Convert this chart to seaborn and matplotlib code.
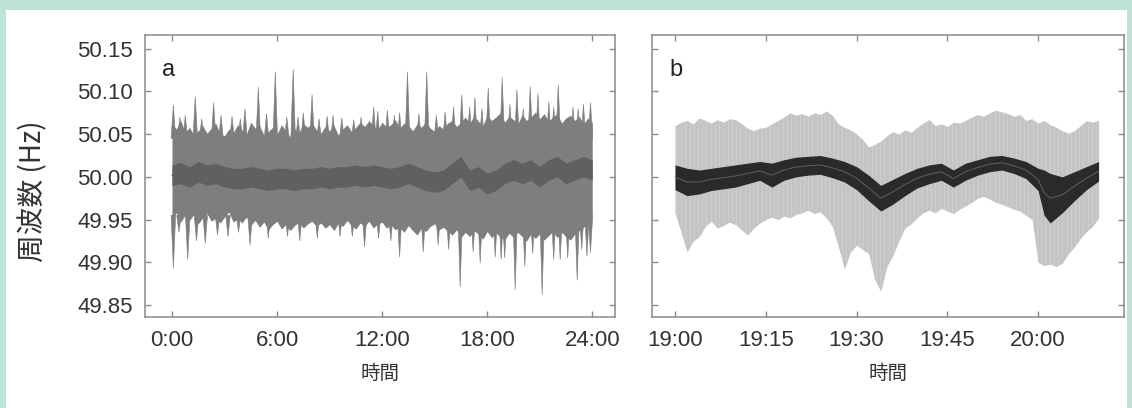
import numpy as np
import matplotlib
matplotlib.use("Agg")
import matplotlib.pyplot as plt
from matplotlib.patches import Rectangle
import seaborn as sns

# ---------------- data ----------------
# Panel a: 24 h, 15-min envelope of frequency (Hz)
hours_a = np.arange(0, 24.01, 0.25)
upper_a = [50.062, 50.056, 50.066, 50.052, 50.058, 50.049, 50.054, 50.060,
           50.051, 50.057, 50.063, 50.050, 50.048, 50.056, 50.052, 50.061,
           50.055, 50.050, 50.064, 50.057, 50.060, 50.049, 50.053, 50.058,
           50.050, 50.061, 50.054, 50.047, 50.056, 50.052, 50.062, 50.058,
           50.063, 50.055, 50.051, 50.059, 50.054, 50.060, 50.049, 50.056,
           50.061, 50.053, 50.058, 50.064, 50.059, 50.066, 50.060, 50.055,
           50.064, 50.058, 50.061, 50.067, 50.057, 50.063, 50.060, 50.054,
           50.062, 50.058, 50.065, 50.057, 50.053, 50.060, 50.056, 50.063,
           50.066, 50.059, 50.064, 50.070, 50.063, 50.071, 50.065, 50.060,
           50.072, 50.066, 50.070, 50.075, 50.064, 50.071, 50.067, 50.062,
           50.073, 50.066, 50.070, 50.076, 50.068, 50.074, 50.065, 50.070,
           50.074, 50.063, 50.069, 50.072, 50.066, 50.071, 50.062, 50.069,
           50.064]
lower_a = [49.950, 49.958, 49.947, 49.955, 49.949, 49.956, 49.945, 49.952,
           49.957, 49.948, 49.952, 49.946, 49.953, 49.959, 49.947, 49.951,
           49.946, 49.953, 49.943, 49.949, 49.941, 49.947, 49.938, 49.944,
           49.948, 49.939, 49.944, 49.937, 49.943, 49.947, 49.940, 49.945,
           49.948, 49.942, 49.946, 49.940, 49.944, 49.937, 49.946, 49.942,
           49.949, 49.943, 49.939, 49.946, 49.942, 49.948, 49.940, 49.945,
           49.947, 49.940, 49.944, 49.938, 49.941, 49.935, 49.943, 49.937,
           49.932, 49.940, 49.936, 49.942, 49.945, 49.938, 49.941, 49.936,
           49.932, 49.938, 49.929, 49.935, 49.930, 49.937, 49.933, 49.927,
           49.936, 49.929, 49.934, 49.930, 49.926, 49.934, 49.929, 49.935,
           49.930, 49.925, 49.933, 49.928, 49.933, 49.926, 49.931, 49.936,
           49.929, 49.935, 49.930, 49.926, 49.933, 49.937, 49.941, 49.945,
           49.955]
# 30-min central (darker) band
hours_a_mid = np.arange(0, 24.01, 0.5)
mid_hi_a = [50.014, 50.017, 50.012, 50.018, 50.014, 50.016, 50.012, 50.010,
            50.010, 50.012, 50.010, 50.008, 50.010, 50.010, 50.008, 50.010,
            50.010, 50.012, 50.010, 50.012, 50.012, 50.014, 50.012, 50.014,
            50.012, 50.010, 50.012, 50.016, 50.012, 50.008, 50.006, 50.008,
            50.016, 50.024, 50.008, 50.012, 50.004, 50.008, 50.016, 50.020,
            50.016, 50.020, 50.012, 50.020, 50.024, 50.016, 50.020, 50.024,
            50.020]
mid_lo_a = [49.990, 49.992, 49.988, 49.994, 49.990, 49.992, 49.988, 49.986,
            49.986, 49.988, 49.986, 49.984, 49.986, 49.986, 49.984, 49.986,
            49.986, 49.988, 49.986, 49.988, 49.988, 49.990, 49.988, 49.990,
            49.988, 49.986, 49.988, 49.992, 49.988, 49.984, 49.982, 49.984,
            49.992, 50.000, 49.984, 49.988, 49.980, 49.984, 49.992, 49.996,
            49.992, 49.996, 49.988, 49.996, 50.000, 49.992, 49.996, 50.000,
            49.996]
# spikes (time in h, extreme value in Hz)
spike_up_t = [0.08, 0.45, 0.76, 1.33, 1.7, 2.38, 2.8, 3.43, 3.9, 4.17, 4.93,
              5.4, 5.9, 6.56, 6.92, 7.2, 7.5, 8.0, 8.4, 8.86, 9.2, 9.7, 10.38,
              10.8, 11.52, 11.75, 12.3, 12.7, 13.0, 13.45, 14.1, 14.55, 15.1,
              15.6, 16.08, 16.55, 17.0, 17.3, 17.7, 18.06, 18.86, 19.3, 19.7,
              20.06, 20.46, 20.9, 21.52, 21.8, 22.06, 22.9, 23.2, 23.5, 23.9]
spike_up_v = [50.084, 50.070, 50.072, 50.094, 50.068, 50.087, 50.072, 50.071,
              50.068, 50.080, 50.105, 50.074, 50.123, 50.070, 50.126, 50.070,
              50.075, 50.096, 50.068, 50.071, 50.072, 50.069, 50.067, 50.070,
              50.082, 50.077, 50.078, 50.072, 50.075, 50.123, 50.074, 50.123,
              50.072, 50.076, 50.082, 50.096, 50.082, 50.093, 50.080, 50.104,
              50.116, 50.085, 50.102, 50.080, 50.106, 50.098, 50.088, 50.082,
              50.108, 50.082, 50.080, 50.085, 50.087]
spike_dn_t = [0.08, 0.4, 0.9, 1.4, 1.9, 2.6, 3.2, 3.8, 4.46, 5.5, 6.6, 7.3,
              8.3, 9.6, 10.3, 11.0, 11.8, 12.5, 13.0, 14.35, 15.2, 15.8, 16.46,
              17.2, 17.6, 18.46, 18.8, 19.0, 19.6, 20.15, 20.6, 21.14, 21.8,
              22.17, 22.6, 23.14, 23.4, 23.7, 23.9]
spike_dn_v = [49.893, 49.935, 49.903, 49.925, 49.922, 49.932, 49.930, 49.935,
              49.920, 49.928, 49.930, 49.925, 49.928, 49.930, 49.930, 49.918,
              49.928, 49.925, 49.906, 49.912, 49.920, 49.915, 49.871, 49.912,
              49.899, 49.906, 49.903, 49.905, 49.868, 49.895, 49.910, 49.862,
              49.903, 49.903, 49.905, 49.879, 49.915, 49.907, 49.911]

# Panel b: minutes after 19:00 (1-min envelope)
mins_b = np.arange(0, 70.1, 1)
upper_b = [50.060, 50.064, 50.066, 50.062, 50.069, 50.066, 50.063, 50.067,
           50.064, 50.068, 50.067, 50.062, 50.057, 50.054, 50.057, 50.058,
           50.062, 50.066, 50.070, 50.075, 50.072, 50.074, 50.071, 50.075,
           50.073, 50.077, 50.072, 50.062, 50.058, 50.055, 50.050, 50.044,
           50.035, 50.038, 50.042, 50.048, 50.053, 50.050, 50.055, 50.052,
           50.058, 50.063, 50.067, 50.060, 50.062, 50.059, 50.064, 50.063,
           50.066, 50.070, 50.073, 50.071, 50.075, 50.078, 50.076, 50.074,
           50.071, 50.073, 50.066, 50.068, 50.063, 50.066, 50.061, 50.058,
           50.054, 50.051, 50.054, 50.060, 50.066, 50.064, 50.066]
lower_b = [49.958, 49.935, 49.912, 49.925, 49.930, 49.942, 49.948, 49.940,
           49.943, 49.947, 49.944, 49.938, 49.932, 49.940, 49.946, 49.950,
           49.953, 49.950, 49.954, 49.952, 49.956, 49.958, 49.961, 49.957,
           49.959, 49.952, 49.942, 49.918, 49.892, 49.912, 49.920, 49.915,
           49.910, 49.880, 49.866, 49.895, 49.908, 49.925, 49.940, 49.945,
           49.952, 49.958, 49.961, 49.958, 49.963, 49.960, 49.957, 49.962,
           49.966, 49.970, 49.975, 49.977, 49.974, 49.970, 49.968, 49.965,
           49.962, 49.960, 49.955, 49.950, 49.900, 49.896, 49.898, 49.895,
           49.899, 49.910, 49.918, 49.928, 49.936, 49.942, 49.952]
mins_b_core = [0, 2, 4, 6, 8, 10, 12, 14, 16, 18, 20, 22, 24, 26, 28, 30, 32,
               34, 36, 38, 40, 42, 44, 46, 48, 50, 52, 54, 56, 58, 60, 61, 62,
               64, 66, 68, 70]
core_hi_b = [50.014, 50.010, 50.008, 50.010, 50.012, 50.014, 50.016, 50.018,
             50.016, 50.020, 50.023, 50.024, 50.025, 50.022, 50.018, 50.012,
             50.002, 49.990, 49.997, 50.004, 50.010, 50.014, 50.016, 50.008,
             50.016, 50.020, 50.024, 50.025, 50.022, 50.018, 50.010, 50.008,
             50.004, 50.000, 50.006, 50.012, 50.018]
core_lo_b = [49.985, 49.978, 49.980, 49.984, 49.986, 49.988, 49.992, 49.996,
             49.988, 49.996, 50.000, 50.002, 50.003, 49.999, 49.994, 49.985,
             49.972, 49.960, 49.968, 49.978, 49.987, 49.992, 49.996, 49.988,
             49.996, 50.002, 50.006, 50.008, 50.004, 49.998, 49.984, 49.955,
             49.946, 49.958, 49.972, 49.985, 49.995]

xticks_a = [0, 6, 12, 18, 24]
xticklabels_a = ["0:00", "6:00", "12:00", "18:00", "24:00"]
xticks_b = [0, 15, 30, 45, 60]
xticklabels_b = ["19:00", "19:15", "19:30", "19:45", "20:00"]
yticks = [49.85, 49.90, 49.95, 50.00, 50.05, 50.10, 50.15]
yticklabels = ["49.85", "49.90", "49.95", "50.00", "50.05", "50.10", "50.15"]

# ---------------- figure ----------------
sns.set_theme(style="white")
plt.rcParams["font.family"] = ["Liberation Sans", "Noto Sans CJK JP", "DejaVu Sans"]

W, H = 1132, 408
fig = plt.figure(figsize=(W / 100, H / 100), dpi=100, facecolor="#bde3d5")
fig.add_artist(Rectangle((6 / W, 0), (1127 - 6) / W, (H - 10) / H,
                         transform=fig.transFigure, facecolor="white",
                         edgecolor="none", zorder=-10))

bottom = 1 - 317 / H
height = (317 - 35) / H
ax_a = fig.add_axes([145 / W, bottom, (615 - 145) / W, height])
ax_b = fig.add_axes([652 / W, bottom, (1124 - 652) / W, height])

spine_c = "#8a8a8a"
text_c = "#333333"
band_a = "#7e7e81"
mid_a = "#606063"
light_b = "#c4c4c6"
dark_b = "#2a2a2a"

# panel a
ax_a.fill_between(hours_a, lower_a, upper_a, color=band_a, lw=0, zorder=2)
sw = 0.13
for t, v in zip(spike_up_t, spike_up_v):
    ax_a.fill([t - sw, t, t + sw], [50.045, v, 50.045], color=band_a, lw=0.4,
              ec=band_a, zorder=2)
for t, v in zip(spike_dn_t, spike_dn_v):
    ax_a.fill([t - sw, t, t + sw], [49.955, v, 49.955], color=band_a, lw=0.4,
              ec=band_a, zorder=2)
ax_a.fill_between(hours_a_mid, mid_lo_a, mid_hi_a, color=mid_a, lw=0, zorder=3)
mid_center_a = (np.array(mid_hi_a) + np.array(mid_lo_a)) / 2
sns.lineplot(x=hours_a_mid, y=mid_center_a, ax=ax_a, color=mid_a, lw=1.0, zorder=3)
ax_a.set_xlim(-1.54, 25.3)

# panel b
poly = ax_b.fill_between(mins_b, lower_b, upper_b, color=light_b, lw=0, zorder=2)
stripes = ax_b.vlines(np.arange(0.3, 70, 0.7), 49.85, 50.09, color="white",
                      lw=0.6, alpha=0.2, zorder=2.5)
stripes.set_clip_path(poly.get_paths()[0], transform=ax_b.transData)
ax_b.fill_between(mins_b_core, core_lo_b, core_hi_b, color=dark_b, lw=0, zorder=3)
core_center_b = (np.array(core_hi_b) + np.array(core_lo_b)) / 2
sns.lineplot(x=mins_b_core, y=core_center_b, ax=ax_b, color="#777777", lw=0.7,
             alpha=0.7, zorder=4)
ax_b.set_xlim(-3.8, 74.2)

for ax, xt, xl, lab in [(ax_a, xticks_a, xticklabels_a, "a"),
                        (ax_b, xticks_b, xticklabels_b, "b")]:
    ax.set_ylim(49.836, 50.166)
    ax.set_xticks(xt)
    ax.set_xticklabels(xl)
    ax.set_yticks(yticks)
    ax.set_facecolor("white")
    for s in ax.spines.values():
        s.set_color(spine_c)
        s.set_linewidth(1.1)
        s.set_visible(True)
    ax.tick_params(axis="both", direction="in", length=4, width=1, color=spine_c,
                   top=True, right=True, bottom=True, left=True,
                   labelsize=16, labelcolor=text_c, pad=9)
    ax.set_xlabel("時間", fontsize=14, color=text_c, labelpad=9,
                  family=["Noto Sans CJK JP", "DejaVu Sans"])
    ax.set_ylabel("")
    ax.text(0.036, 0.853, lab, transform=ax.transAxes, fontsize=17,
            color="#222222", ha="left", va="baseline")
    ax.grid(False)

ax_a.set_yticklabels(yticklabels)
ax_b.set_yticklabels([])

fig.text(33 / W, 1 - 191 / H, "周波数 (Hz)", rotation=90, ha="center", va="center",
         fontsize=20, color=text_c, family=["Noto Sans CJK JP", "DejaVu Sans"])

fig.savefig("out.png", dpi=100, facecolor=fig.get_facecolor())
